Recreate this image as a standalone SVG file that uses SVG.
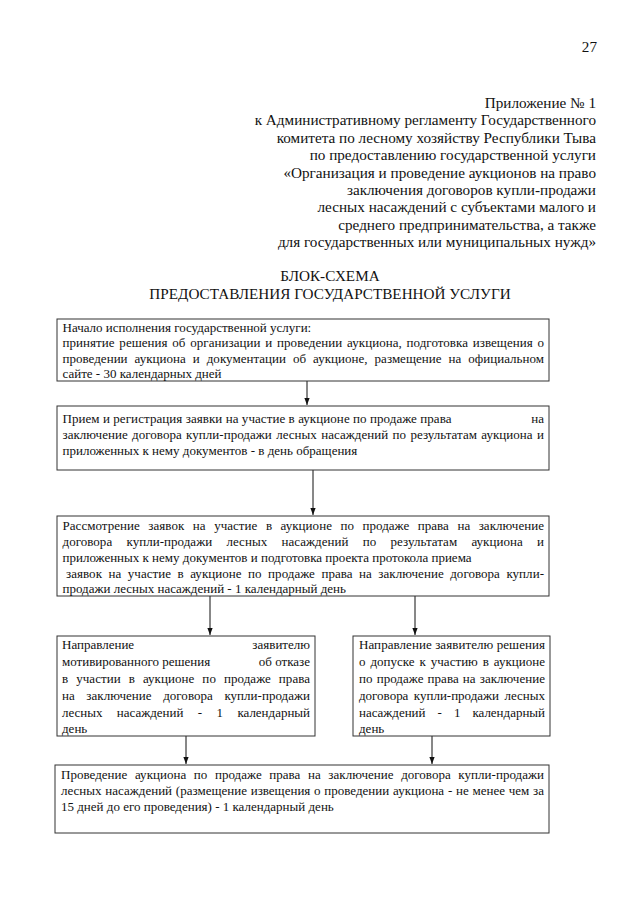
<svg xmlns="http://www.w3.org/2000/svg" width="640" height="905" viewBox="0 0 640 905">
<defs>
<style>
.hdr{font-family:"Liberation Serif","Times New Roman",serif;font-size:15.2px;fill:#111;text-anchor:end}
.ttl{font-family:"Liberation Serif","Times New Roman",serif;font-size:15.2px;fill:#111;text-anchor:middle}
.t{font-family:"Liberation Serif","Times New Roman",serif;font-size:13px;fill:#111}
.r{text-anchor:end}
.box{fill:#fff;stroke:#333;stroke-width:1}
.con{stroke:#111;stroke-width:1;fill:none;marker-end:url(#ah)}
</style>
<marker id="ah" viewBox="0 0 8 6" markerWidth="7" markerHeight="5.5" refX="8" refY="3" orient="auto" markerUnits="userSpaceOnUse">
<path d="M0,0 L8,3 L0,6 z" fill="#111"/>
</marker>
</defs>
<rect width="640" height="905" fill="#fff"/>

<g id="header">
<text class="hdr" x="597" y="52">27</text>
<text class="hdr" x="596" y="108">Приложение № 1</text>
<text class="hdr" x="596" y="125.4">к Административному регламенту Государственного</text>
<text class="hdr" x="596" y="142.8">комитета по лесному хозяйству Республики Тыва</text>
<text class="hdr" x="596" y="160.2">по предоставлению государственной услуги</text>
<text class="hdr" x="596" y="177.6">«Организация и проведение аукционов на право</text>
<text class="hdr" x="596" y="195">заключения договоров купли-продажи</text>
<text class="hdr" x="596" y="212.4">лесных насаждений с субъектами малого и</text>
<text class="hdr" x="596" y="229.8">среднего предпринимательства, а также</text>
<text class="hdr" x="596" y="247.2">для государственных или муниципальных нужд»</text>
<text class="ttl" x="330" y="281">БЛОК-СХЕМА</text>
<text class="ttl" x="330" y="299">ПРЕДОСТАВЛЕНИЯ ГОСУДАРСТВЕННОЙ УСЛУГИ</text>
</g>

<g id="connectors">
<line class="con" x1="307" y1="381" x2="307" y2="405"/>
<line class="con" x1="313" y1="470" x2="313" y2="515"/>
<line class="con" x1="210" y1="596" x2="210" y2="635"/>
<line class="con" x1="415" y1="596" x2="415" y2="635"/>
<line class="con" x1="186" y1="736" x2="186" y2="764"/>
<line class="con" x1="432" y1="736" x2="432" y2="764"/>
</g>

<g id="node1">
<rect class="box" x="57" y="319" width="492" height="62"/>
<text class="t" x="62.5" y="331.5">Начало исполнения государственной услуги:</text>
<text class="t" x="62.5" y="347" textLength="481.5" lengthAdjust="spacing" style="word-spacing:1.5px">принятие решения об организации и проведении аукциона, подготовка извещения о</text>
<text class="t" x="62.5" y="362.5" textLength="481.5" lengthAdjust="spacing" style="word-spacing:3.7px">проведении аукциона и документации об аукционе, размещение на официальном</text>
<text class="t" x="62.5" y="378">сайте - 30 календарных дней</text>
</g>

<g id="node2">
<rect class="box" x="57" y="406" width="492" height="64"/>
<text class="t" x="62.5" y="423" textLength="389" lengthAdjust="spacing">Прием и регистрация заявки на участие в аукционе по продаже права</text>
<text class="t r" x="544" y="423">на</text>
<text class="t" x="62.5" y="439" textLength="481.5" lengthAdjust="spacing" style="word-spacing:1.1px">заключение договора купли-продажи лесных насаждений по результатам аукциона и</text>
<text class="t" x="62.5" y="455">приложенных к нему документов - в день обращения</text>
</g>

<g id="node3">
<rect class="box" x="57" y="516" width="492" height="80"/>
<text class="t" x="62.5" y="530" textLength="481.5" lengthAdjust="spacing" style="word-spacing:5.2px">Рассмотрение заявок на участие в аукционе по продаже права на заключение</text>
<text class="t" x="62.5" y="546" textLength="481.5" lengthAdjust="spacing" style="word-spacing:11px">договора купли-продажи лесных насаждений по результатам аукциона и</text>
<text class="t" x="62.5" y="562">приложенных к нему документов и подготовка проекта протокола приема</text>
<text class="t" x="66" y="578" textLength="478" lengthAdjust="spacing" style="word-spacing:3.2px">заявок на участие в аукционе по продаже права на заключение договора купли-</text>
<text class="t" x="62.5" y="593">продажи лесных насаждений - 1 календарный день</text>
</g>

<g id="node4">
<rect class="box" x="57" y="636" width="258" height="100"/>
<text class="t" x="62" y="649">Направление</text>
<text class="t r" x="310" y="649">заявителю</text>
<text class="t" x="62" y="666">мотивированного решения</text>
<text class="t r" x="310" y="666">об отказе</text>
<text class="t" x="62" y="683" textLength="248" lengthAdjust="spacing" style="word-spacing:4.7px">в участии в аукционе по продаже права</text>
<text class="t" x="62" y="700" textLength="248" lengthAdjust="spacing" style="word-spacing:8.3px">на заключение договора купли-продажи</text>
<text class="t" x="62" y="717" textLength="248" lengthAdjust="spacing" style="word-spacing:11.2px">лесных насаждений - 1 календарный</text>
<text class="t" x="62" y="733">день</text>
</g>

<g id="node5">
<rect class="box" x="353" y="636" width="197" height="100"/>
<text class="t" x="359" y="649" textLength="186" lengthAdjust="spacing">Направление заявителю решения</text>
<text class="t" x="359" y="666" textLength="186" lengthAdjust="spacing" style="word-spacing:1.6px">о допуске к участию в аукционе</text>
<text class="t" x="359" y="683" textLength="186" lengthAdjust="spacing" style="word-spacing:0.8px">по продаже права на заключение</text>
<text class="t" x="359" y="700" textLength="186" lengthAdjust="spacing" style="word-spacing:2.2px">договора купли-продажи лесных</text>
<text class="t" x="359" y="717" textLength="186" lengthAdjust="spacing" style="word-spacing:8.8px">насаждений - 1 календарный</text>
<text class="t" x="359" y="733">день</text>
</g>

<g id="node6">
<rect class="box" x="55" y="765" width="494" height="68"/>
<text class="t" x="61" y="779" textLength="483" lengthAdjust="spacing" style="word-spacing:4.3px">Проведение аукциона по продаже права на заключение договора купли-продажи</text>
<text class="t" x="61" y="795" textLength="483" lengthAdjust="spacing" style="word-spacing:0.5px">лесных насаждений (размещение извещения о проведении аукциона - не менее чем за</text>
<text class="t" x="61" y="811">15 дней до его проведения) - 1 календарный день</text>
</g>
</svg>
